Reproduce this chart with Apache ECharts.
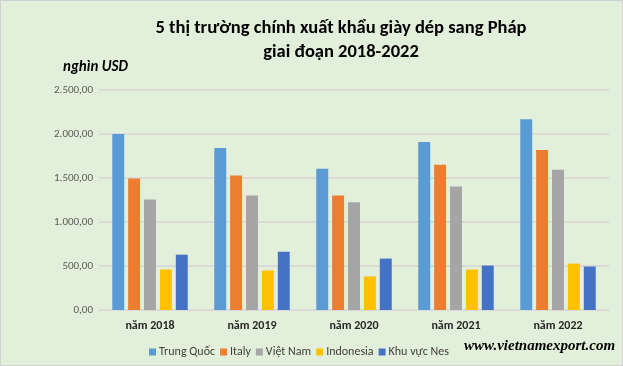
<!DOCTYPE html>
<html><head><meta charset="utf-8">
<script src="https://cdn.jsdelivr.net/npm/echarts@6/dist/echarts.min.js"></script>
<style>html,body{margin:0;padding:0;background:#e2efda}#c{width:623px;height:366px;box-sizing:border-box;border:1px solid #d0d0d0}</style>
</head><body><div id="c"></div>
<script>
const categories = ['năm 2018','năm 2019','năm 2020','năm 2021','năm 2022'];
const seriesNames = ['Trung Quốc','Italy','Việt Nam','Indonesia','Khu vực Nes'];
const trungQuoc = [2000, 1840, 1605, 1908, 2167];
const italy = [1495, 1527, 1302, 1650, 1818];
const vietNam = [1257, 1302, 1224, 1403, 1594];
const indonesia = [460, 449, 381, 460, 527];
const khuVucNes = [629, 662, 584, 505, 494];
const colors = ['#5b9bd5','#ed7d31','#a5a5a5','#ffc000','#4472c4'];
const values = [trungQuoc, italy, vietNam, indonesia, khuVucNes];
const font = 'Carlito, "Open Sans", "Noto Sans", sans-serif';

const chart = echarts.init(document.getElementById('c'));
chart.setOption({
  backgroundColor: '#e2efda',
  animation: false,
  color: colors,
  textStyle: {fontFamily: font},
  title: {
    text: '5 thị trường chính xuất khẩu giày dép sang Pháp\ngiai đoạn 2018-2022',
    left: 335, top: 10, textAlign: 'center',
    textStyle: {fontSize: 18.5, fontWeight: 'bold', color: '#000', lineHeight: 24, fontFamily: font}
  },
  grid: {left: 98, right: 13, top: 89, bottom: 55},
  legend: {
    data: seriesNames, left: 143, top: 340, itemWidth: 7, itemHeight: 7, itemGap: 5,
    icon: 'rect', textStyle: {fontSize: 12, color: '#404040', padding: [0,0,0,-2]}
  },
  graphic: [
    {type: 'text', left: 62, top: 59, style: {text: 'nghìn USD', font: 'italic bold 15px ' + font, fill: '#000'}},
    {type: 'text', left: 463, top: 338, style: {text: 'www.vietnamexport.com', font: 'italic bold 15px "Liberation Serif", "DejaVu Serif", serif', fill: '#000'}}
  ],
  xAxis: {
    type: 'category', data: categories,
    axisLine: {lineStyle: {color: '#d9d9d9'}}, axisTick: {show: false},
    axisLabel: {fontSize: 12, fontWeight: 'bold', color: '#262626', margin: 10}
  },
  yAxis: {
    type: 'value', min: 0, max: 2500, interval: 500,
    axisLine: {show: false}, axisTick: {show: false},
    splitLine: {lineStyle: {color: '#d5d5d5', width: 1.5}},
    axisLabel: {fontSize: 11, color: '#595959', margin: 6,
      formatter: v => v.toLocaleString('de-DE', {minimumFractionDigits: 2, maximumFractionDigits: 2})}
  },
  series: seriesNames.map((n, i) => ({
    name: n, type: 'bar', data: values[i], barGap: '33%', barCategoryGap: '26%'
  }))
});
</script></body></html>
